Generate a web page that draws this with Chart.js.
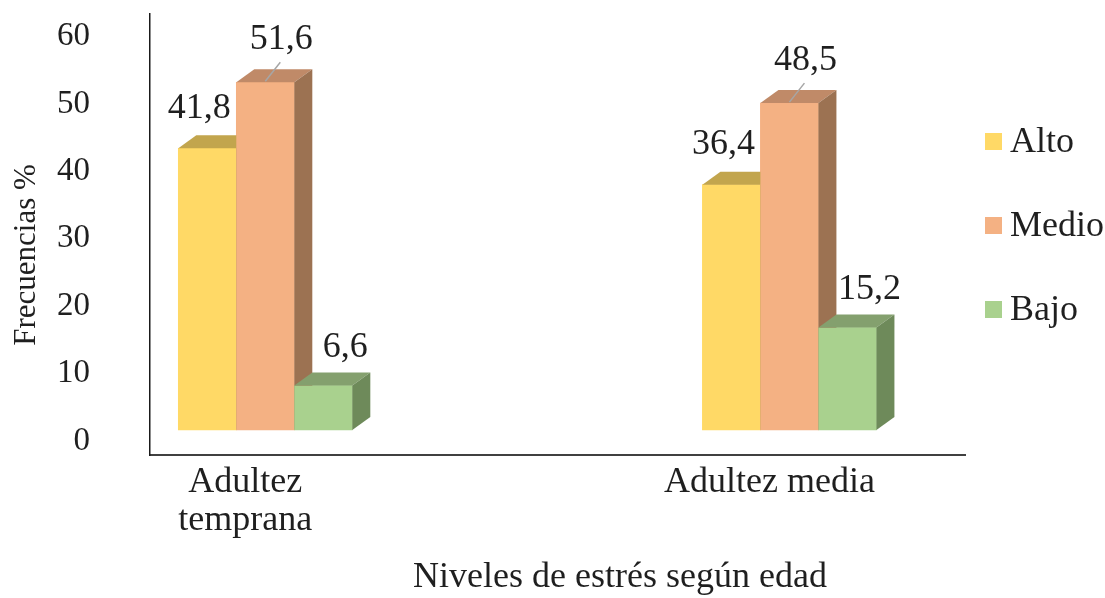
<!DOCTYPE html>
<html>
<head>
<meta charset="utf-8">
<script src="https://cdn.jsdelivr.net/npm/chart.js@4.4.1/dist/chart.umd.min.js"></script>
<style>
  html, body { margin: 0; padding: 0; background: #fff; }
  #wrap { width: 1105px; height: 598px; }
</style>
</head>
<body>
<div id="wrap"><canvas id="chart"></canvas></div>
<script>
const categories = [['Adultez', 'temprana'], 'Adultez media'];
const seriesNames = ['Alto', 'Medio', 'Bajo'];
const alto = [41.8, 36.4];
const medio = [51.6, 48.5];
const bajo = [6.6, 15.2];
const yTicks = [0, 10, 20, 30, 40, 50, 60];

const FONT = '"Liberation Serif", "Times New Roman", serif';
const TEXT = '#1f1f1f';
const DEPTH_X = 18;
const DEPTH_Y = 13;

// shades and value-label placement for each series
const SERIES_STYLE = [
  { front: '#FFD966', top: '#C2A54D', side: '#A88F43', labelDx: -8, labelDy: -40, leader: false },
  { front: '#F4B183', top: '#C08A68', side: '#9C7252', labelDx: 16, labelDy: -43, leader: true },
  { front: '#A9D18E', top: '#84A06E', side: '#6E8A5A', labelDx: 22, labelDy: -38, leader: false }
];

function toPoints(values) {
  return values.map((v, i) => ({ x: i + 1, y: v }));
}

// repaint bars series by series so each one gets its top and side face
const bars3d = {
  id: 'bars3d',
  afterDatasetsDraw(chart) {
    const ctx = chart.ctx;
    ctx.save();
    chart.data.datasets.forEach((ds, di) => {
      const c = SERIES_STYLE[di];
      chart.getDatasetMeta(di).data.forEach(bar => {
        const { x, y, base, width } = bar.getProps(['x', 'y', 'base', 'width'], true);
        const l = x - width / 2;
        const r = x + width / 2;
        ctx.fillStyle = c.front;
        ctx.fillRect(l, y, width, base - y);
        ctx.fillStyle = c.top;
        ctx.beginPath();
        ctx.moveTo(l, y);
        ctx.lineTo(l + DEPTH_X, y - DEPTH_Y);
        ctx.lineTo(r + DEPTH_X, y - DEPTH_Y);
        ctx.lineTo(r, y);
        ctx.closePath();
        ctx.fill();
        ctx.fillStyle = c.side;
        ctx.beginPath();
        ctx.moveTo(r, y);
        ctx.lineTo(r + DEPTH_X, y - DEPTH_Y);
        ctx.lineTo(r + DEPTH_X, base - DEPTH_Y);
        ctx.lineTo(r, base);
        ctx.closePath();
        ctx.fill();
      });
    });

    // value labels (with a short leader line for the moved ones)
    ctx.font = `36px ${FONT}`;
    ctx.textAlign = 'center';
    ctx.textBaseline = 'middle';
    chart.data.datasets.forEach((ds, di) => {
      const c = SERIES_STYLE[di];
      chart.getDatasetMeta(di).data.forEach((bar, i) => {
        if (c.leader) {
          ctx.strokeStyle = '#A6A6A6';
          ctx.lineWidth = 1.5;
          ctx.beginPath();
          ctx.moveTo(bar.x, bar.y - 1);
          ctx.lineTo(bar.x + 15, bar.y - 20);
          ctx.stroke();
        }
        const v = ds.data[i].y;
        ctx.fillStyle = TEXT;
        ctx.fillText(v.toFixed(1).replace('.', ','), bar.x + c.labelDx, bar.y + c.labelDy);
      });
    });
    ctx.restore();
  }
};

// axis titles and the legend column on the right
const extras = {
  id: 'extras',
  afterDraw(chart) {
    const { ctx, chartArea } = chart;
    ctx.save();
    ctx.fillStyle = TEXT;
    ctx.textBaseline = 'middle';

    ctx.textAlign = 'center';
    ctx.font = `36px ${FONT}`;
    ctx.fillText('Niveles de estrés según edad', 620, 578);

    ctx.save();
    ctx.translate(27, 255);
    ctx.rotate(-Math.PI / 2);
    ctx.font = `31px ${FONT}`;
    ctx.fillText('Frecuencias %', 0, 0);
    ctx.restore();

    const left = chartArea.right + 20;
    const midY = (chartArea.top + chartArea.bottom) / 2 - 9;
    ctx.textAlign = 'left';
    ctx.font = `36px ${FONT}`;
    chart.data.datasets.forEach((ds, i) => {
      const cy = midY + (i - 1) * 84;
      ctx.fillStyle = ds.backgroundColor;
      ctx.fillRect(left, cy - 8.5, 17, 17);
      ctx.fillStyle = TEXT;
      ctx.fillText(ds.label, left + 25, cy + 1);
    });
    ctx.restore();
  }
};

new Chart(document.getElementById('chart'), {
  type: 'bar',
  data: {
    datasets: [
      { label: seriesNames[0], data: toPoints(alto), backgroundColor: SERIES_STYLE[0].front },
      { label: seriesNames[1], data: toPoints(medio), backgroundColor: SERIES_STYLE[1].front },
      { label: seriesNames[2], data: toPoints(bajo), backgroundColor: SERIES_STYLE[2].front }
    ]
  },
  options: {
    responsive: true,
    maintainAspectRatio: false,
    animation: false,
    barThickness: 58,
    layout: { padding: { top: 14, right: 140 } },
    plugins: {
      legend: { display: false },
      tooltip: { enabled: false }
    },
    scales: {
      x: {
        type: 'linear',
        offset: false,
        min: 0.78,
        max: 2.335,
        grid: { display: false, drawTicks: false, offset: false },
        border: { display: true, color: '#404040', width: 2 },
        afterBuildTicks: s => { s.ticks = categories.map((c, i) => ({ value: i + 1 })); },
        afterFit: s => { s.height = 143; },
        ticks: {
          callback: v => categories[v - 1],
          color: TEXT,
          font: { family: FONT, size: 36, lineHeight: 1.05 },
          padding: 9,
          labelOffset: -20,
          maxRotation: 0,
          autoSkip: false
        }
      },
      y: {
        min: -3.71,
        max: 61.72,
        grid: { display: false, drawTicks: true, tickLength: 60 },
        border: { display: true, color: '#1a1a1a', width: 1.5 },
        afterBuildTicks: s => { s.ticks = yTicks.map(v => ({ value: v })); },
        afterFit: s => { s.width = 150; },
        ticks: {
          callback: v => v,
          color: TEXT,
          font: { family: FONT, size: 33, lineHeight: 0.8 },
          padding: 0,
          labelOffset: 11
        }
      }
    }
  },
  plugins: [bars3d, extras]
});
</script>
</body>
</html>
